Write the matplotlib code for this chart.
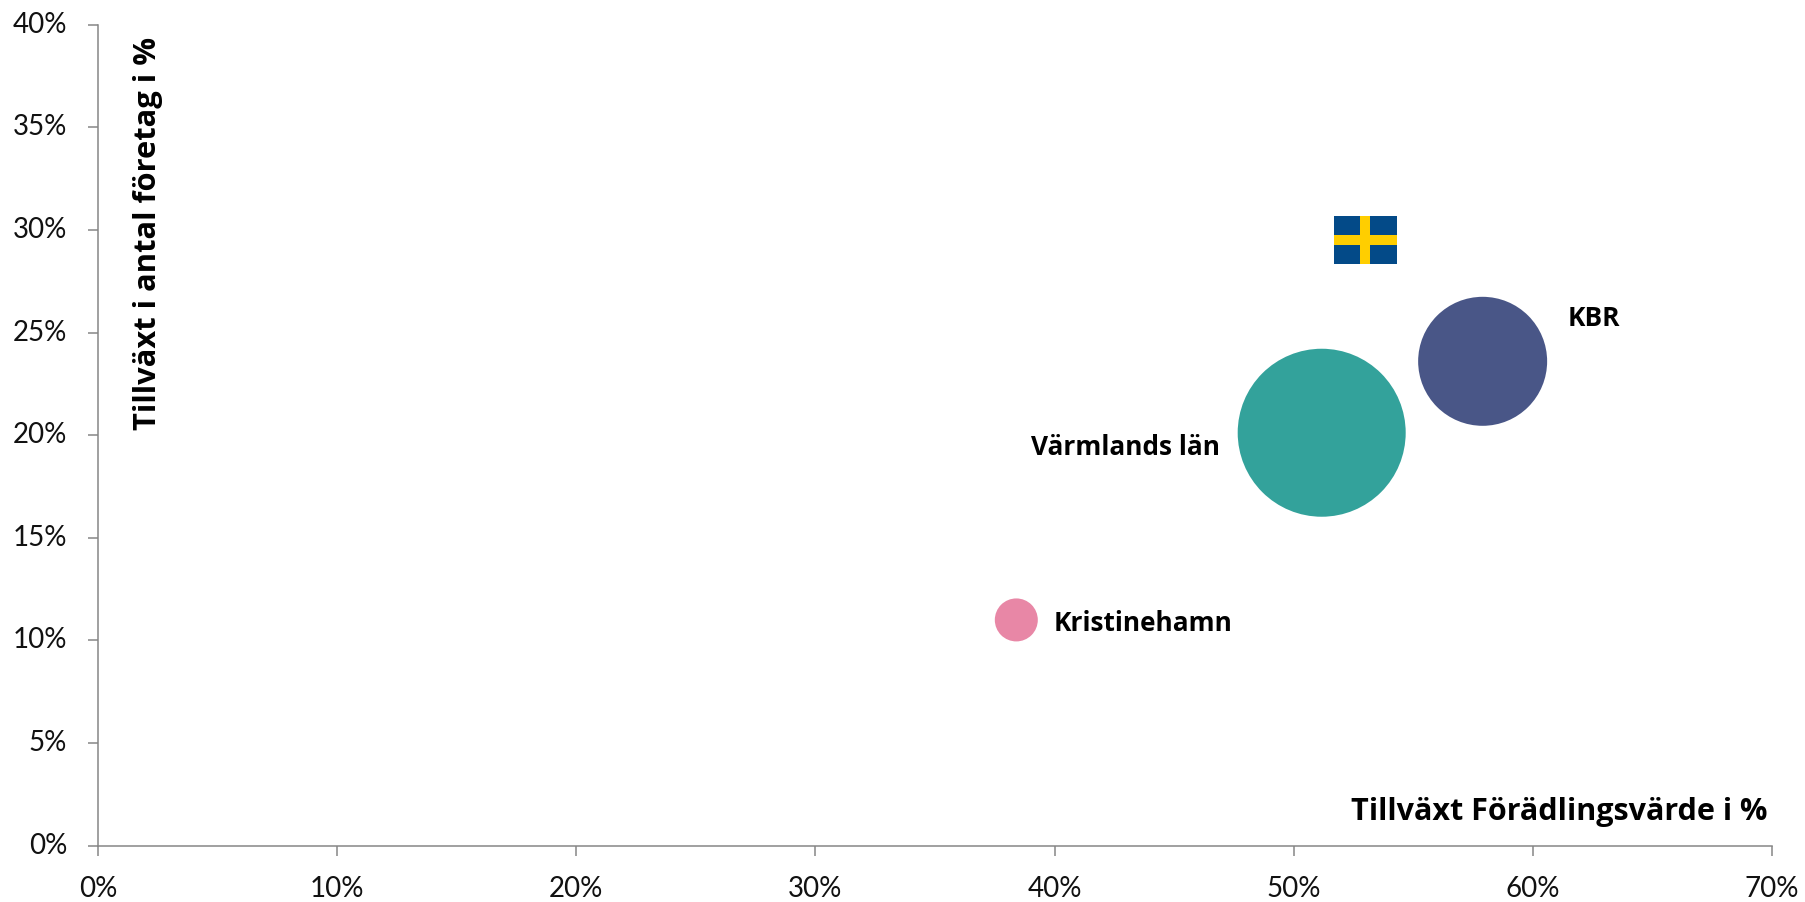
import matplotlib
matplotlib.use('Agg')
from matplotlib import pyplot as plt
from matplotlib.patches import Rectangle
from matplotlib.ticker import PercentFormatter

regions = ['Kristinehamn', 'Värmlands län', 'KBR']
growth_value_added = [38.4, 51.17, 57.9]
growth_companies = [11.0, 20.12, 23.6]
bubble_diameters = [43, 168, 129]  # pixels
bubble_colors = ['#E887A6', '#33A29B', '#495687']

sweden_x = 53.0
sweden_y = 29.5

x_ticks = [0, 10, 20, 30, 40, 50, 60, 70]
y_ticks = [0, 5, 10, 15, 20, 25, 30, 35, 40]

W, H, dpi = 1806, 902, 100
GRAY = '#868686'

fig = plt.figure(figsize=(W / dpi, H / dpi), dpi=dpi)
ax = fig.add_axes([98 / W, 1 - 845.7 / H, 1674 / W, 821 / H])
ax.set_xlim(0, 70)
ax.set_ylim(0, 40)
ax.set_xticks(x_ticks)
ax.set_yticks(y_ticks)
ax.xaxis.set_major_formatter(PercentFormatter(decimals=0))
ax.yaxis.set_major_formatter(PercentFormatter(decimals=0))

for side in ['top', 'right']:
    ax.spines[side].set_visible(False)
for side in ['left', 'bottom']:
    ax.spines[side].set_color(GRAY)
    ax.spines[side].set_linewidth(1.1)
ax.tick_params(length=7.2, width=1.1, color=GRAY, labelsize=20, labelcolor='#111111')
ax.tick_params(axis='x', pad=14.5)
ax.tick_params(axis='y', pad=15)
for lab in ax.get_xticklabels() + ax.get_yticklabels():
    lab.set_family('Lato')
for lab in ax.get_yticklabels():
    lab.set_verticalalignment('center')

sizes = [(d * 72 / dpi) ** 2 for d in bubble_diameters]
ax.scatter(growth_value_added, growth_companies, s=sizes, c=bubble_colors, linewidths=0, zorder=3)

# flag for Sweden
flag_w, flag_h = 2.6, 2.34
ax.add_patch(Rectangle((sweden_x - flag_w * 0.5, sweden_y - flag_h * 0.5), flag_w, flag_h, color='#034A88', lw=0))
ax.add_patch(Rectangle((sweden_x - flag_w * 0.5, sweden_y - flag_h * 0.1), flag_w, flag_h * 0.21, color='#FFCE00', lw=0))
ax.add_patch(Rectangle((sweden_x - flag_w * 0.09, sweden_y - flag_h * 0.5), flag_w * 0.17, flag_h, color='#FFCE00', lw=0))

offsets = [(37, -4, 'left'), (-102, -15, 'right'), (85, 43, 'left')]
for i in range(len(regions)):
    dx, dy, ha = offsets[i]
    ax.annotate(regions[i], (growth_value_added[i], growth_companies[i]), xytext=(dx, dy),
                textcoords='offset pixels', ha=ha, va='center', fontsize=18.9,
                fontweight='bold', family='Open Sans', color='black')

ax.set_xlabel('Tillväxt Förädlingsvärde i %', fontsize=22, fontweight='bold', family='Open Sans', ha='right', va='center')
ax.xaxis.set_label_coords(0.9976, 0.041)
ax.set_ylabel('Tillväxt i antal företag i %', fontsize=22.2, fontweight='bold', family='Open Sans', ha='right', va='center')
ax.yaxis.set_label_coords(0.0296, 0.985)

fig.savefig('out.png', dpi=dpi)
